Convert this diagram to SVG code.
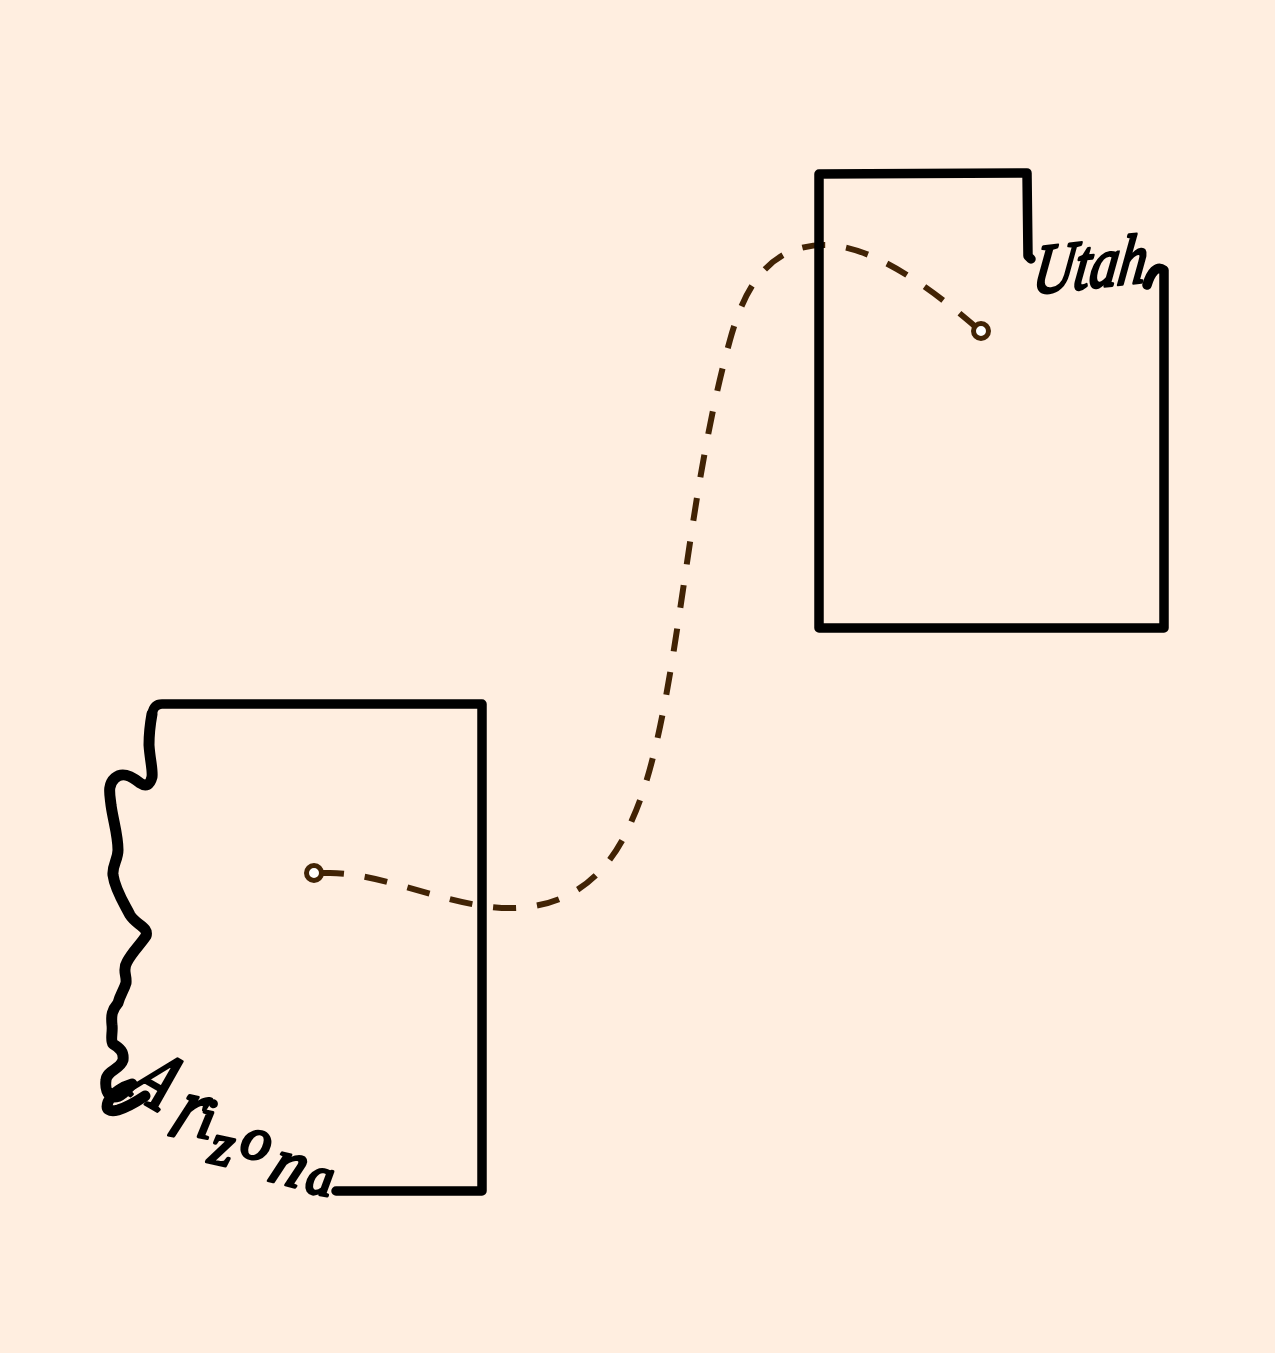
<svg xmlns="http://www.w3.org/2000/svg" width="1275" height="1353" viewBox="0 0 1275 1353">
<style>
.state{fill:none;stroke:#000;stroke-width:9.5;stroke-linecap:round;stroke-linejoin:round}
.wavy{stroke-width:11}
.route{fill:none;stroke:#412305;stroke-width:6;stroke-dasharray:23 21}
.pin{fill:#fff;stroke:#412305;stroke-width:5}
.script{font-family:"Liberation Serif",serif;font-style:italic;fill:#000;stroke:#000;stroke-width:3;stroke-linejoin:round}
</style>
<rect width="1275" height="1353" fill="#FFEEE0"/>
<g id="connectors">
<path class="route" d="M977 328C950 305 880 245 825 245C770 245 745 285 730 340C705 430 692 530 680 610C668 690 655 770 632 820C605 885 560 908 510 908C450 908 385 873 330 873L320 873"/>
</g>
<g id="utah">
<path class="state" d="M819 174L1027 173L1028 256L1031 259M1147 285C1151 272 1157 265 1164 270L1164 628L819 628L819 174"/>
<text class="script" font-size="70" transform="translate(1031 294) rotate(-6) skewX(-14)" textLength="114" lengthAdjust="spacingAndGlyphs">Utah</text>
<circle class="pin" cx="981" cy="331" r="7.5"/>
</g>
<g id="arizona">
<path class="state" d="M336 1191L482 1191L482 704L162 704C156 704 153 708 152 714"/>
<path class="state wavy" d="M152 714C150 725 149 735 149 745C150 760 153 770 152 777C150 785 146 787 140 783C130 775 122 772 115 778C107 785 110 795 111 805C113 820 118 835 118 850C118 860 112 865 113 875C115 890 125 905 130 915C136 925 149 927 146 936C140 945 132 952 127 962C122 970 127 975 126 983C124 990 120 995 118 1003C112 1010 111 1015 112 1025C113 1032 110 1040 113 1044C120 1048 124 1052 123 1060C120 1070 107 1070 106 1080C105 1088 107 1095 113 1097C120 1098 127 1090 132 1084C125 1086 112 1092 108 1102C105 1110 110 1112 118 1110C128 1107 136 1102 145 1096"/>
<g class="script">
<text font-size="80" transform="translate(124 1092) rotate(30) skewX(-8) scale(.8 1.05)">A</text>
<text font-size="68" transform="translate(166 1134) rotate(12) skewX(-14) scale(1 1.35)">r</text>
<text font-size="58" transform="translate(195 1136) rotate(12)">i</text>
<text font-size="60" transform="translate(207 1162) rotate(12)">z</text>
<text font-size="60" transform="translate(238 1155) rotate(14)">o</text>
<text font-size="66" transform="translate(266 1180) rotate(14) skewX(-10)">n</text>
<text font-size="54" transform="translate(304 1192) rotate(10)">a</text>
</g>
<circle class="pin" cx="314" cy="873" r="7.5"/>
</g>
</svg>
